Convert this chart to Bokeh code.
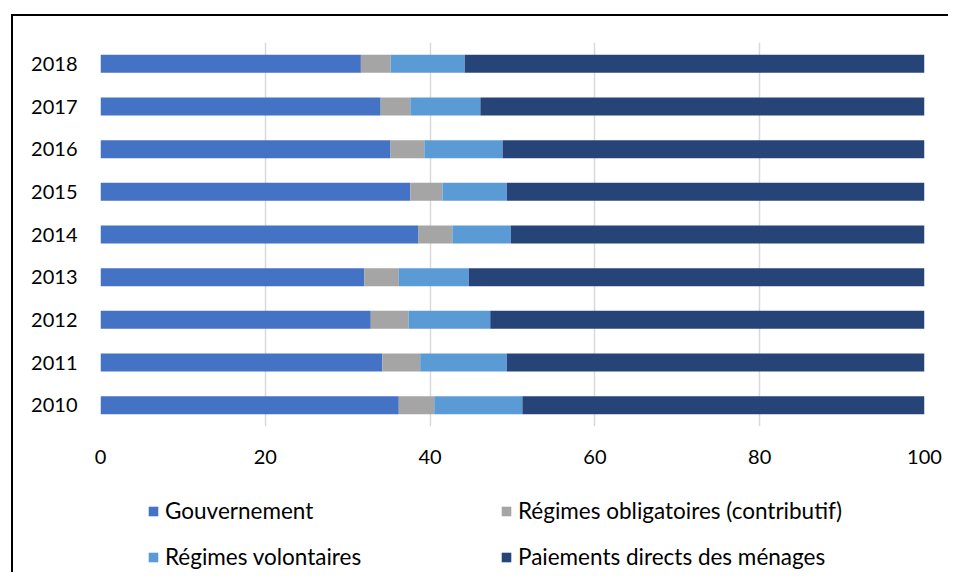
from bokeh.plotting import figure
from bokeh.layouts import column
from bokeh.models import Range1d, FactorRange, Legend, LegendItem, FixedTicker
from bokeh.embed import file_html
from bokeh.resources import INLINE

years = ["2010", "2011", "2012", "2013", "2014", "2015", "2016", "2017", "2018"]
gouvernement = [36.2, 34.2, 32.8, 32.0, 38.6, 37.6, 35.2, 34.0, 31.6]
obligatoires = [4.3, 4.6, 4.6, 4.2, 4.1, 3.9, 4.1, 3.6, 3.6]
volontaires = [10.7, 10.5, 9.9, 8.5, 7.1, 7.8, 9.5, 8.5, 9.0]
paiements = [48.8, 50.7, 52.7, 55.3, 50.2, 50.7, 51.2, 53.9, 55.8]
series_names = ["Gouvernement", "Régimes obligatoires (contributif)",
                "Régimes volontaires", "Paiements directs des ménages"]
x_ticks = [0, 20, 40, 60, 80, 100]

colors = ["#4472C4", "#A5A5A5", "#5B9BD5", "#264478"]
FONT = "Lato"

p = figure(width=935, height=464, output_backend="svg", toolbar_location=None,
           x_range=Range1d(0, 100), y_range=FactorRange(factors=years, range_padding=0),
           min_border_left=87, min_border_right=24, min_border_top=26, min_border_bottom=54)
p.outline_line_color = None
p.background_fill_color = "white"
p.border_fill_color = "white"

data = dict(year=years, g=gouvernement, o=obligatoires, v=volontaires, d=paiements)
p.hbar_stack(["g", "o", "v", "d"], y="year", height=0.42, color=colors,
             line_color=None, source=data)

p.xaxis.ticker = FixedTicker(ticks=x_ticks)
p.xaxis.axis_line_color = None
p.xaxis.major_tick_line_color = None
p.xaxis.minor_tick_line_color = None
p.xaxis.major_label_standoff = 17
p.xaxis.major_label_text_font = FONT
p.xaxis.major_label_text_font_size = "20px"
p.xaxis.major_label_text_color = "black"

p.yaxis.axis_line_color = None
p.yaxis.major_tick_line_color = None
p.yaxis.minor_tick_line_color = None
p.yaxis.major_label_standoff = 17
p.yaxis.major_label_text_font = FONT
p.yaxis.major_label_text_font_size = "20px"
p.yaxis.major_label_text_color = "black"

p.ygrid.grid_line_color = None
p.xgrid.grid_line_color = "#D9D9D9"
p.xgrid.grid_line_width = 1.5

# legend strip: same series as zero-height bars, so only the legend swatches show
pl = figure(width=935, height=92, output_backend="svg", toolbar_location=None,
            x_range=Range1d(0, 100), y_range=FactorRange(factors=years),
            min_border_left=0, min_border_right=0, min_border_top=0, min_border_bottom=0)
pl.axis.visible = False
pl.grid.visible = False
pl.outline_line_color = None
pl.border_fill_color = "white"
pl.background_fill_color = "white"
leg_renderers = pl.hbar_stack(["g", "o", "v", "d"], y="year", height=0.0, color=colors,
                              line_color=None, source=data)

items = [LegendItem(label=n, renderers=[r]) for n, r in zip(series_names, leg_renderers)]
legend = Legend(items=items, location=(47, 2), orientation="horizontal", ncols=2,
                glyph_width=12, glyph_height=12, label_standoff=6, label_width=316,
                label_height=25, spacing=19, padding=0, margin=0,
                border_line_color=None, background_fill_alpha=0,
                label_text_font=FONT, label_text_font_size="22.5px", label_text_color="black")
pl.add_layout(legend, "center")

layout = column(p, pl, spacing=0)
layout.styles = {"margin-left": "11px", "margin-top": "14px",
                 "border-left": "2px solid black", "border-top": "2px solid black"}

open("out.html", "w").write(file_html(layout, INLINE))
